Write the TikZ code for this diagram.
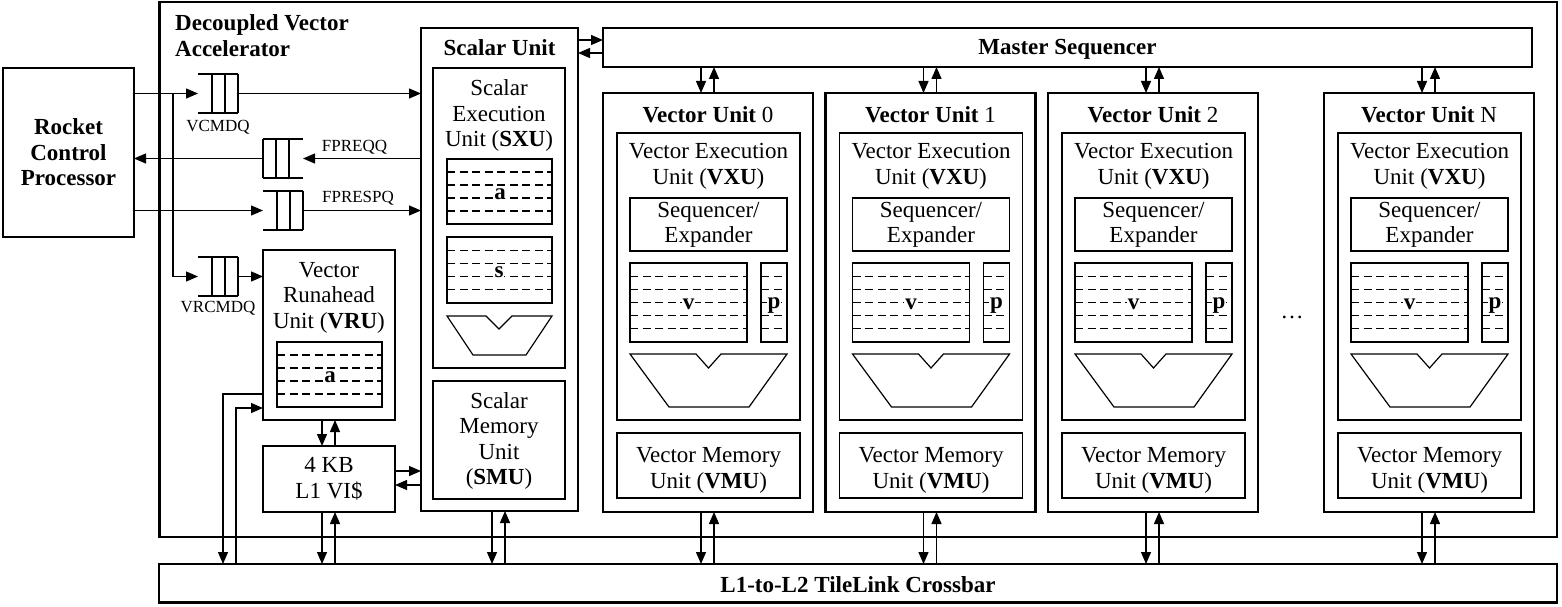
\documentclass[tikz,border=0pt]{standalone}
\usepackage{fontspec}
\setmainfont{Liberation Serif}
\usetikzlibrary{arrows.meta}

\newcommand\mybox[6]{\node[#1, anchor=north west, minimum width={(#5)-(#3)}, minimum height={(#6)-(#4)}] (#2) at ({#3},{#4}) {};}
\newcommand\myreg[6]{%
  \mybox{thinbox}{#1}{#2}{#3}{#4}{#5}%
  \foreach \k in {1,...,#6}{\draw[dashln] ({#2},{(#3)+\k*((#5)-(#3))/(#6+1)}) -- ({#4},{(#3)+\k*((#5)-(#3))/(#6+1)});}%
}
\newcommand\myqueueR[3]{%
  \node[qnode, anchor=north west] (#1) at (#2,#3) {};
  \draw[qline] (#1.north west) -- (#1.north east) (#1.south west) -- (#1.south east);
  \foreach \o in {14,27,40}{\draw[qline] ([xshift=\o pt]#1.north west) -- ([xshift=\o pt]#1.south west);}%
}
\newcommand\myqueueL[3]{%
  \node[qnode, anchor=north west] (#1) at (#2,#3) {};
  \draw[qline] (#1.north west) -- (#1.north east) (#1.south west) -- (#1.south east);
  \foreach \o in {0,13,26}{\draw[qline] ([xshift=\o pt]#1.north west) -- ([xshift=\o pt]#1.south west);}%
}
\newcommand\myvpair[4]{%
  \coordinate (vpd) at ({#3},0); \coordinate (vpu) at ({#4},0);
  \draw[arr] (vpd |- #1.south) -- (vpd |- #2.north);
  \draw[arr] (vpu |- #2.north) -- (vpu |- #1.south);
}
\newcommand\myhpair[4]{%
  \coordinate (hpr) at (0,{#3}); \coordinate (hpl) at (0,{#4});
  \draw[arr] (hpr -| #1.east) -- (hpr -| #2.west);
  \draw[arr] (hpl -| #2.west) -- (hpl -| #1.east);
}

\begin{document}
\begin{tikzpicture}[x=1pt,y=-1pt,
  thickbox/.style={draw, line width=2.6pt, inner sep=0pt, outer sep=0pt},
  thinbox/.style={draw, line width=1.2pt, inner sep=0pt, outer sep=0pt},
  thinln/.style={line width=1.2pt, line join=miter},
  dashln/.style={line width=1.1pt, dash pattern=on 8pt off 4.5pt},
  qnode/.style={minimum width=40pt, minimum height=39pt, inner sep=0pt, outer sep=0pt},
  qline/.style={line width=1.3pt},
  arr/.style={line width=1.3pt, -{Triangle[length=12pt,width=10pt]}},
  txt/.style={inner sep=0pt, align=center, font=\fontsize{23}{25.5}\selectfont},
  txtb/.style={inner sep=0pt, align=center, font=\fontsize{23}{25.5}\selectfont\bfseries},
  qlbl/.style={inner sep=0pt, font=\fontsize{17}{20}\selectfont},
  reglbl/.style={inner sep=1pt, fill=white, font=\fontsize{23}{25.5}\selectfont\bfseries}]
\useasboundingbox (0,0) rectangle (1562,607);

% outer accelerator and crossbar
\mybox{thickbox}{dva}{159.5}{2}{1557}{537}
\node[txtb, align=left, anchor=north west] (dvat) at (175,14.5) {Decoupled Vector\\Accelerator};
\mybox{thickbox}{xbar}{159}{564}{1557}{602.5}
\node[txtb] (xbart) at (858,585) {L1-to-L2 TileLink Crossbar};

% rocket
\mybox{thickbox}{rcp}{3}{68}{134}{237}
\node[txtb] (rcpt) at (68.5,152.5) {Rocket\\Control\\Processor};

% queues
\myqueueR{vcmdq}{198}{74}
\node[qlbl] (vcmdqt) at (218,127) {VCMDQ};
\myqueueL{fpreqq}{263}{139}
\node[qlbl] (fpreqqt) at (354.5,147.5) {FPREQQ};
\myqueueR{fprespq}{263}{191}
\node[qlbl] (fprespqt) at (358,198.5) {FPRESPQ};
\myqueueR{vrcmdq}{198}{257}
\node[qlbl] (vrcmdqt) at (218,308.5) {VRCMDQ};

% VRU and VI$
\mybox{thickbox}{vru}{263}{250}{395}{420}
\node[txt] (vrut) at (329,297.5) {Vector\\Runahead\\Unit (\textbf{VRU})};
\myreg{vrua}{277}{342}{382}{407}{4}
\node[reglbl] (vrual) at (330,377) {a};
\mybox{thickbox}{vic}{263}{446}{395}{512}
\node[txt] (vict) at (329,479) {4 KB\\L1 VI\$};

% scalar unit
\mybox{thickbox}{su}{421}{28}{578}{511}
\node[txtb] (sut) at (499.5,48) {Scalar Unit};
\mybox{thinbox}{sxu}{433}{68}{565}{368}
\node[txt] (sxut) at (499,115.5) {Scalar\\Execution\\Unit (\textbf{SXU})};
\myreg{sxua}{447}{159}{552}{224}{4}
\node[reglbl] (sxual) at (500,194.5) {a};
\myreg{sxus}{447}{237}{552}{303}{4}
\node[reglbl] (sxusl) at (499,272) {s};
\draw[thinln] (447,316) -- (486,316) -- (499,329) -- (512,316) -- (552,316) -- (526,355) -- (473,355) -- cycle;
\mybox{thinbox}{smu}{433}{381}{565}{499}
\node[txt] (smut) at (499,441) {Scalar\\Memory\\Unit\\(\textbf{SMU})};

% master sequencer
\mybox{thickbox}{ms}{603}{28}{1532}{67}
\node[txtb] (mst) at (1067.5,49) {Master Sequencer};

% vector units
\foreach \id/\L in {0/603,1/825.5,2/1048,N/1324}{
  \mybox{thickbox}{vu\id}{\L}{93}{\L+210}{512}
  \node[txt] (vut\id) at ({\L+105},114.5) {\textbf{Vector Unit} \id};
  \mybox{thinbox}{vxu\id}{\L+14}{133}{\L+197}{420}
  \node[txt] (vxut\id) at ({\L+105.5},166.5) {Vector Execution\\Unit (\textbf{VXU})};
  \mybox{thinbox}{seq\id}{\L+27}{198}{\L+184}{251}
  \node[txt] (seqt\id) at ({\L+105.5},225) {Sequencer/\\Expander};
  \myreg{vrf\id}{\L+27}{263}{\L+144}{342}{5}
  \myreg{prf\id}{\L+158}{263}{\L+184}{342}{5}
  \node[reglbl] (vl\id) at ({\L+85.5},304.5) {v};
  \node[reglbl] (pl\id) at ({\L+171},306) {p};
  \draw[thinln] ({\L+27},354) -- ({\L+93},354) -- ({\L+105.5},368) -- ({\L+118},354) -- ({\L+184},354) -- ({\L+146},407) -- ({\L+66},407) -- cycle;
  \mybox{thinbox}{vmu\id}{\L+14}{433}{\L+197}{498}
  \node[txt] (vmut\id) at ({\L+105.5},470.5) {Vector Memory\\Unit (\textbf{VMU})};
  \myvpair{ms}{vu\id}{\L+98}{\L+111}
  \myvpair{vu\id}{xbar}{\L+98}{\L+111}
}
\node[txt] (dots) at (1292,317) {\ldots};

% connectors
\coordinate (br) at (173,93.5);
\draw[arr] (rcp.east |- vcmdq.west) -- (vcmdq.west);
\draw[arr] (br) |- (vrcmdq.west);
\draw[arr] (vcmdq.east) -- (vcmdq.east -| su.west);
\draw[arr] (fpreqq.east -| su.west) -- (fpreqq.east);
\draw[arr] (fpreqq.west) -- (fpreqq.west -| rcp.east);
\draw[arr] (fprespq.west -| rcp.east) -- (fprespq.west);
\draw[arr] (fprespq.east) -- (fprespq.east -| su.west);
\draw[arr] (vrcmdq.east) -- (vrcmdq.east -| vru.west);

\coordinate (k1) at (223,394);
\coordinate (k2) at (236,408);
\draw[arr] (k1 -| vru.west) -- (k1) -- (k1 |- xbar.north);
\draw[arr] (k2 |- xbar.north) -- (k2) -- (k2 -| vru.west);

\myvpair{vru}{vic}{322}{335}
\myvpair{vic}{xbar}{322}{335}
\myvpair{su}{xbar}{492}{505}
\myhpair{vic}{su}{471}{485}
\myhpair{su}{ms}{40}{53}
\end{tikzpicture}
\end{document}
